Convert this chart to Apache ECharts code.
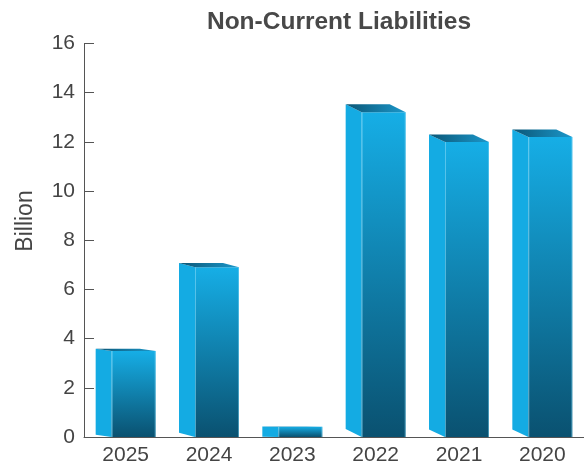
<!DOCTYPE html>
<html>
<head>
<meta charset="utf-8">
<script src="https://cdn.jsdelivr.net/npm/echarts@6/dist/echarts.min.js"></script>
<style>html,body{margin:0;padding:0;background:#fff}#c{width:584px;height:467px}</style>
</head>
<body>
<div id="c"></div>
<script>
var categories = ['2025', '2024', '2023', '2022', '2021', '2020'];
var values = [3.5, 6.9, 0.42, 13.2, 12.0, 12.2];
var yTicks = [0, 2, 4, 6, 8, 10, 12, 14, 16];
var titleText = 'Non-Current Liabilities';
var yName = 'Billion';

var chart = echarts.init(document.getElementById('c'));
var FONT = 'Liberation Sans, Arial, sans-serif';

function renderItem(params, api) {
  var i = api.value(0);
  var v = api.value(1);
  var b = api.coord([i, 0]);
  var t = api.coord([i, v]);
  var cx = b[0], bottom = b[1], top = t[1];
  var d = 0.025 * (bottom - top);
  var L = cx - 30, M = cx - 14, R = cx + 30, BR = cx + 14;
  var front = {
    type: 'rect',
    shape: { x: M, y: top, width: R - M, height: bottom - top },
    style: {
      fill: new echarts.graphic.LinearGradient(0, 0, 0, 1, [
        { offset: 0, color: '#16aee6' },
        { offset: 1, color: '#0a5170' }
      ]),
      stroke: null
    }
  };
  var side = {
    type: 'polygon',
    shape: { points: [[L, top - d], [M, top], [M, bottom], [L, bottom - d]] },
    style: { fill: '#14abe3', stroke: null }
  };
  var topFace = {
    type: 'polygon',
    shape: { points: [[L, top - d], [BR, top - d], [R, top], [M, top]] },
    style: {
      fill: new echarts.graphic.LinearGradient(0, 0, 1, 0, [
        { offset: 0, color: '#0b5676' },
        { offset: 1, color: '#1b97ca' }
      ]),
      stroke: null
    }
  };
  var edgeL = {
    type: 'line',
    shape: { x1: M + 0.5, y1: top, x2: M + 0.5, y2: bottom },
    style: { stroke: 'rgba(130,215,245,0.6)', lineWidth: 1 }
  };
  var edgeR = {
    type: 'line',
    shape: { x1: R - 0.5, y1: top, x2: R - 0.5, y2: bottom },
    style: { stroke: 'rgba(130,215,245,0.5)', lineWidth: 1 }
  };
  return { type: 'group', children: [side, front, topFace, edgeL, edgeR] };
}

chart.setOption({
  animation: false,
  title: {
    text: titleText,
    left: 334, textAlign: 'center', top: 5,
    textStyle: { fontFamily: FONT, fontSize: 24.5, fontWeight: 'bold', color: '#484848' }
  },
  graphic: [{
    type: 'text',
    x: 26, y: 221, rotation: Math.PI / 2,
    style: {
      text: yName, fontFamily: FONT, fontSize: 23, fill: '#444',
      align: 'center', verticalAlign: 'middle'
    }
  }],
  grid: { left: 84, right: 0, top: 43.5, bottom: 30 },
  xAxis: {
    type: 'category',
    data: categories,
    axisLine: { lineStyle: { color: '#555', width: 1 } },
    axisTick: { inside: true, length: 10, lineStyle: { color: '#555' } },
    axisLabel: { fontFamily: FONT, fontSize: 21, color: '#444', margin: 8 }
  },
  yAxis: {
    type: 'value',
    min: yTicks[0], max: yTicks[yTicks.length - 1], interval: 2,
    axisLine: { show: true, lineStyle: { color: '#555', width: 1 } },
    axisTick: { show: true, inside: true, length: 10, lineStyle: { color: '#555' } },
    axisLabel: { fontFamily: FONT, fontSize: 21, color: '#444', margin: 9 },
    splitLine: { show: false }
  },
  series: [{
    type: 'custom',
    renderItem: renderItem,
    encode: { x: 0, y: 1 },
    data: categories.map(function (c, i) { return [i, values[i]]; })
  }]
});
</script>
</body>
</html>
